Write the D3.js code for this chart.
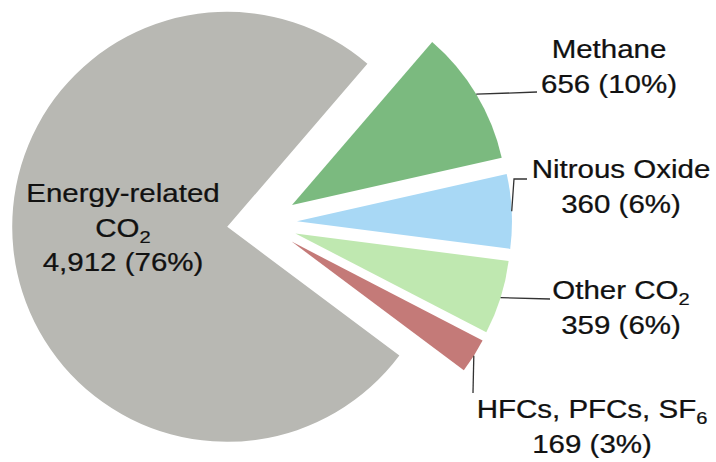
<!DOCTYPE html>
<html lang="en">
<head>
<meta charset="UTF-8">
<title>Emissions pie</title>
<style>
  body { margin: 0; background: #fff; }
  svg { display: block; font-family: 'Liberation Sans', Arial, sans-serif; }
  .lbl { fill: #111; font-size: 25px; stroke: #111; stroke-width: 0.25; }
  .leader { stroke: #333; stroke-width: 1.3; fill: none; }
</style>
</head>
<body>
<svg width="716" height="462"></svg>
<script src="https://cdn.jsdelivr.net/npm/d3@7/dist/d3.min.js"></script>
<script>
  // data, clockwise from the Methane slice
  var names = ["Methane", "Nitrous Oxide", "Other CO", "HFCs, PFCs, SF", "Energy-related CO"];
  var subs = ["", "", "2", "6", "2"];
  var values = [656, 360, 359, 169, 4912];
  var colors = ["#7bba7f", "#a8d8f5", "#bfe8b0", "#c47a78", "#b8b8b3"];

  // label layout (centre x, first baseline) and leader bends
  var labelPos = [[609, 58], [621, 178], [621, 299], [592, 418], [123, 202]];
  var leaderPts = [
    [[537, 92]],
    [[514, 179], [527, 179]],
    [[550, 299]],
    [[473, 393]],
    null
  ];

  var cx = 262, cy = 223, R = 215, EXPLODE = 35;
  var START = 40.7 * Math.PI / 180;
  var LEAD = 34.5, XS = 1.18;

  var svg = d3.select("svg");
  var total = d3.sum(values);
  var fmt = d3.format(",");

  var pie = d3.pie().sort(null).startAngle(START).endAngle(START + 2 * Math.PI);
  var arcs = pie(values);
  var arc = d3.arc().innerRadius(0).outerRadius(R);

  function dirOf(d) {
    var a = (d.startAngle + d.endAngle) / 2;
    return [Math.sin(a), -Math.cos(a)];
  }

  var slices = svg.append("g").attr("transform", "translate(" + cx + "," + cy + ")");
  slices.selectAll("path")
    .data(arcs)
    .enter().append("path")
    .attr("d", arc)
    .attr("fill", function (d, i) { return colors[i]; })
    .attr("transform", function (d) {
      var v = dirOf(d);
      return "translate(" + (v[0] * EXPLODE) + "," + (v[1] * EXPLODE) + ")";
    });

  // leader lines from the outer edge at the slice middle
  arcs.forEach(function (d, i) {
    if (!leaderPts[i]) return;
    var v = dirOf(d);
    var start = [cx + v[0] * (EXPLODE + R), cy + v[1] * (EXPLODE + R)];
    svg.append("path")
      .attr("class", "leader")
      .attr("d", d3.line()([start].concat(leaderPts[i])));
  });

  // labels
  arcs.forEach(function (d, i) {
    var pct = fmt(values[i]) + " (" + Math.round(values[i] / total * 100) + "%)";
    var lines = i === 4
      ? [["Energy-related", ""], ["CO", "2"], [pct, ""]]
      : [[names[i], subs[i]], [pct, ""]];
    lines.forEach(function (ln, j) {
      var t = svg.append("text")
        .attr("class", "lbl")
        .attr("text-anchor", "middle")
        .attr("transform", "translate(" + labelPos[i][0] + "," + (labelPos[i][1] + j * LEAD) + ") scale(" + XS + ",1)");
      t.append("tspan").text(ln[0]);
      if (ln[1]) {
        t.append("tspan").attr("dy", 6).attr("font-size", "17px").text(ln[1]);
      }
    });
  });
</script>
</body>
</html>
